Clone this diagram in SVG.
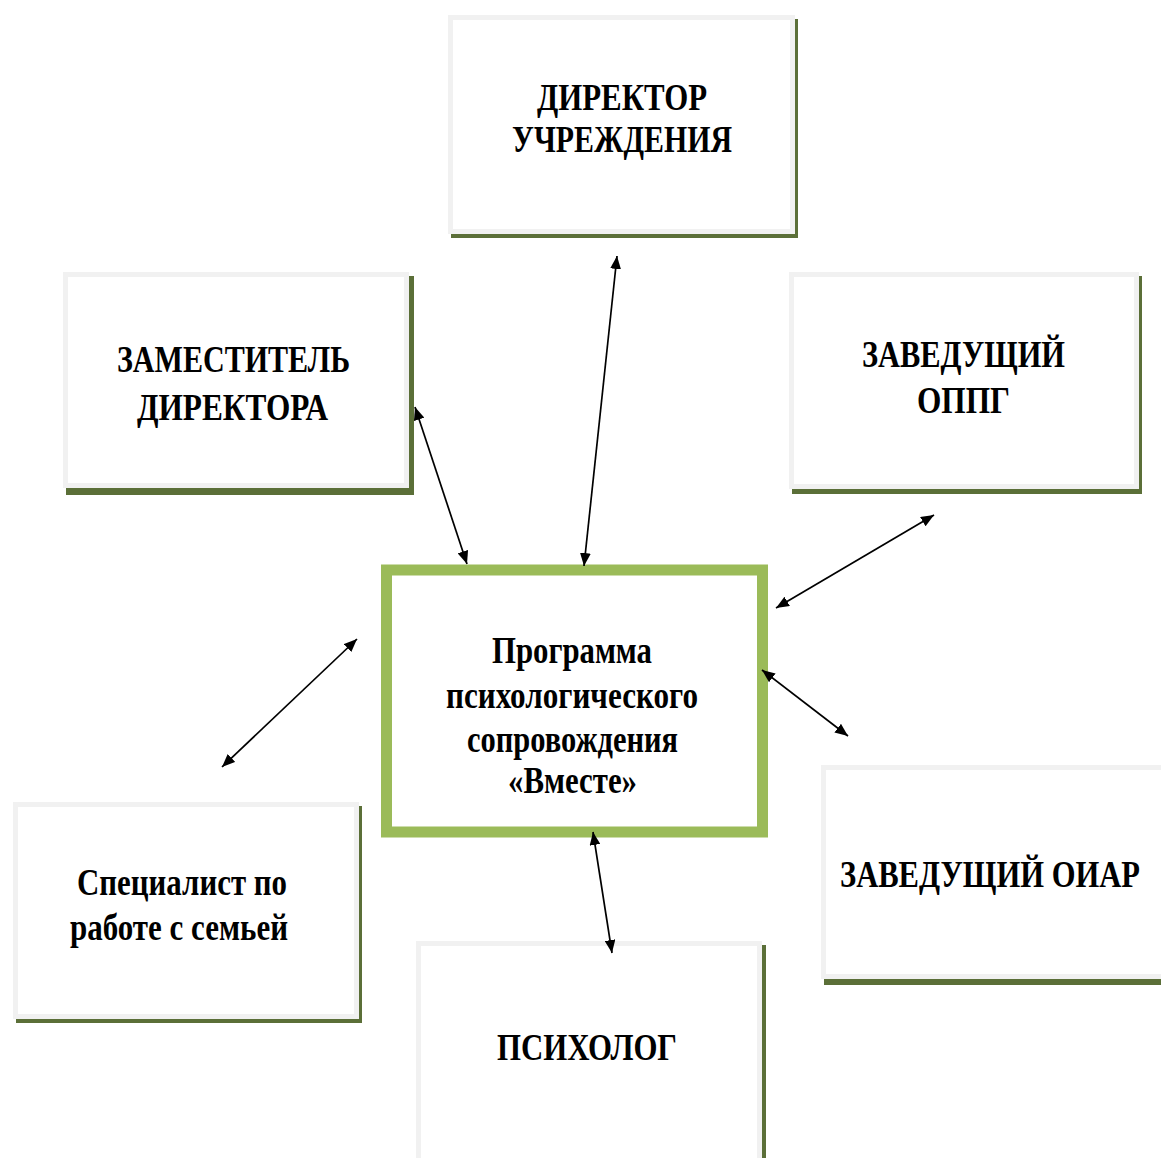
<svg xmlns="http://www.w3.org/2000/svg" width="1161" height="1158" viewBox="0 0 1161 1158">
<defs>
<marker id="ah" viewBox="0 0 12 10" refX="12" refY="5" markerWidth="13" markerHeight="11" markerUnits="userSpaceOnUse" orient="auto-start-reverse">
<path d="M0,0 L12,5 L0,10 z" fill="#000"/>
</marker>
</defs>
<style>
.sh{fill:#5b6f38}
.bd{fill:#f1f1f1}
.in{fill:#fff}
.t{font-family:"Liberation Serif","Times New Roman",serif;font-weight:bold;font-size:37px;fill:#000;text-anchor:middle}
.c{stroke:#000;stroke-width:1.7;fill:none;marker-start:url(#ah);marker-end:url(#ah)}
</style>
<rect width="1161" height="1158" fill="#fff"/>
<g id="director">
<rect class="sh" x="451" y="19" width="347" height="219"/>
<rect class="bd" x="448" y="15" width="347" height="219"/>
<rect class="in" x="453" y="20" width="337" height="209"/>
<text class="t" x="622" y="110" textLength="170" lengthAdjust="spacingAndGlyphs">ДИРЕКТОР</text>
<text class="t" x="622" y="152" textLength="220" lengthAdjust="spacingAndGlyphs">УЧРЕЖДЕНИЯ</text>
</g>
<g id="deputy">
<rect class="sh" x="66" y="276" width="348" height="219"/>
<rect class="bd" x="63" y="272" width="346" height="216"/>
<rect class="in" x="68" y="277" width="336" height="206"/>
<text class="t" x="233.5" y="372" textLength="233" lengthAdjust="spacingAndGlyphs">ЗАМЕСТИТЕЛЬ</text>
<text class="t" x="232.5" y="420" textLength="191" lengthAdjust="spacingAndGlyphs">ДИРЕКТОРА</text>
</g>
<g id="oppg">
<rect class="sh" x="792" y="276" width="350" height="218"/>
<rect class="bd" x="789" y="272" width="350" height="217"/>
<rect class="in" x="794" y="277" width="340" height="207"/>
<text class="t" x="963.5" y="367" textLength="203" lengthAdjust="spacingAndGlyphs">ЗАВЕДУЩИЙ</text>
<text class="t" x="963.5" y="413" textLength="93" lengthAdjust="spacingAndGlyphs">ОППГ</text>
</g>
<g id="specialist">
<rect class="sh" x="16" y="806" width="346" height="217"/>
<rect class="bd" x="13" y="802" width="346" height="217"/>
<rect class="in" x="18" y="807" width="336" height="207"/>
<text class="t" x="182" y="895" textLength="210" lengthAdjust="spacingAndGlyphs">Специалист по</text>
<text class="t" x="179" y="940" textLength="218" lengthAdjust="spacingAndGlyphs">работе с семьей</text>
</g>
<g id="oiar">
<rect class="sh" x="824" y="769" width="345" height="216"/>
<rect class="bd" x="821" y="765" width="345" height="214"/>
<rect class="in" x="826" y="770" width="340" height="204"/>
<text class="t" x="990" y="887" textLength="300" lengthAdjust="spacingAndGlyphs">ЗАВЕДУЩИЙ ОИАР</text>
</g>
<g id="psychologist">
<rect class="sh" x="419" y="945" width="347" height="230"/>
<rect class="bd" x="416" y="941" width="346" height="230"/>
<rect class="in" x="421" y="946" width="336" height="220"/>
<text class="t" x="587" y="1060" textLength="180" lengthAdjust="spacingAndGlyphs">ПСИХОЛОГ</text>
</g>
<g id="program">
<rect x="386.5" y="570" width="376" height="262" fill="#fff" stroke="#9bbb59" stroke-width="11"/>
<text class="t" x="572" y="663" textLength="160" lengthAdjust="spacingAndGlyphs">Программа</text>
<text class="t" x="572" y="708" textLength="252" lengthAdjust="spacingAndGlyphs">психологического</text>
<text class="t" x="572.5" y="752" textLength="211" lengthAdjust="spacingAndGlyphs">сопровождения</text>
<text class="t" x="572.5" y="793" textLength="129" lengthAdjust="spacingAndGlyphs">«Вместе»</text>
</g>
<g id="connectors">
<line class="c" x1="415" y1="407" x2="467" y2="564"/>
<line class="c" x1="617" y1="256" x2="584" y2="566"/>
<line class="c" x1="934" y1="515" x2="776" y2="608"/>
<line class="c" x1="762" y1="670" x2="848" y2="736"/>
<line class="c" x1="357" y1="639" x2="222" y2="767"/>
<line class="c" x1="593" y1="832" x2="612" y2="953"/>
</g>
</svg>
